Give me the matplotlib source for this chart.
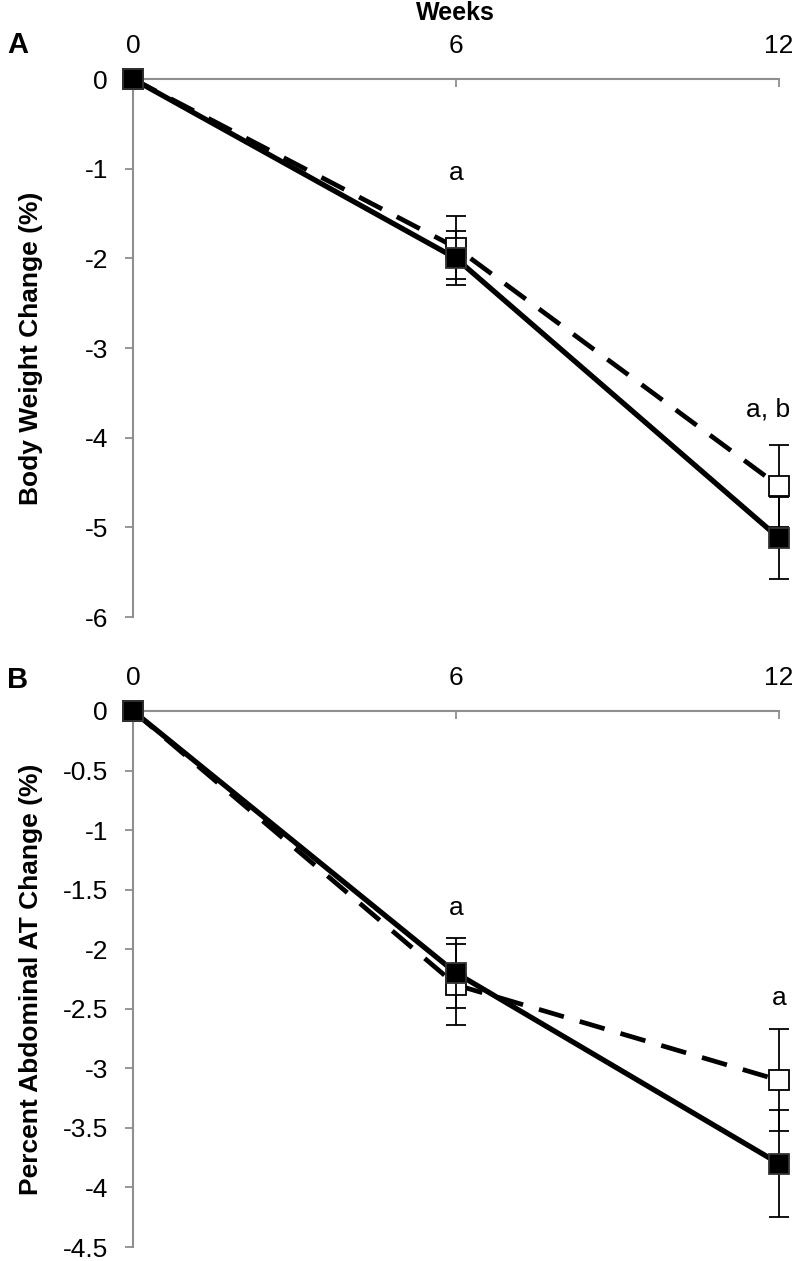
import matplotlib
matplotlib.use("Agg")
from matplotlib import pyplot as plt

plt.rcParams['font.family'] = ['Liberation Sans', 'DejaVu Sans']

weeks = [0, 6, 12]

# panel A - body weight change (%)
bw_filled = [0, -2.0, -5.12]
bw_filled_err = [0, 0.30, 0.46]
bw_open = [0, -1.88, -4.54]
bw_open_err = [0, 0.35, 0.46]
bw_notes = [(6, -1.05, "a"), (11.8, -3.69, "a, b")]

# panel B - percent abdominal AT change (%)
at_filled = [0, -2.2, -3.8]
at_filled_err = [0, 0.29, 0.45]
at_open = [0, -2.3, -3.1]
at_open_err = [0, 0.34, 0.43]
at_notes = [(6, -1.65, "a"), (12, -2.41, "a")]

gray = "#8f8f8f"

fig = plt.figure(figsize=(7.96, 12.61), dpi=100)
axA = fig.add_axes([0.1671, 0.5107, 0.8116, 0.4266])
axB = fig.add_axes([0.1671, 0.0111, 0.8116, 0.4251])


def draw(ax, filled, ferr, opn, oerr, notes, ymin, yticks, ylabel):
    # open squares with dashed line first, filled on top
    ax.errorbar(weeks, opn, yerr=oerr, color="black", lw=3.4, ls=(0, (5.5, 3.5)),
                marker="s", ms=15, mfc="white", mec="black", mew=1.3,
                ecolor="black", elinewidth=1.3, capsize=7, capthick=1.3, zorder=3)
    ax.errorbar(weeks, filled, yerr=ferr, color="black", lw=3.8, ls="-",
                marker="s", ms=15, mfc="black", mec="#333333", mew=1.3,
                ecolor="black", elinewidth=1.3, capsize=7, capthick=1.3, zorder=4)
    for x, y, t in notes:
        ax.text(x, y, t, ha="center", va="center", fontsize=19)

    ax.set_xlim(0, 12)
    ax.set_ylim(ymin, 0)
    ax.set_xticks(weeks)
    ax.set_yticks(yticks)
    ax.set_yticklabels([("%g" % v) for v in yticks])
    ax.xaxis.tick_top()
    ax.tick_params(axis="x", direction="in", length=6, width=1.3, color=gray,
                   pad=15, labelsize=19)
    ax.tick_params(axis="y", direction="out", length=6, width=1.3, color=gray,
                   pad=12, labelsize=19)
    for s in ["bottom", "right"]:
        ax.spines[s].set_visible(False)
    for s in ["top", "left"]:
        ax.spines[s].set_color(gray)
        ax.spines[s].set_linewidth(1.5)
    ax.set_ylabel(ylabel, fontsize=19, fontweight="bold")
    ax.yaxis.set_label_coords(-0.14, 0.5)
    for ln in ax.lines:
        ln.set_clip_on(False)
    for c in ax.collections:
        c.set_clip_on(False)


draw(axA, bw_filled, bw_filled_err, bw_open, bw_open_err, bw_notes,
     -6, [0, -1, -2, -3, -4, -5, -6], "Body Weight Change (%)")
draw(axB, at_filled, at_filled_err, at_open, at_open_err, at_notes,
     -4.5, [0, -0.5, -1, -1.5, -2, -2.5, -3, -3.5, -4, -4.5],
     "Percent Abdominal AT Change (%)")

fig.text(0.5716, 0.990, "Weeks", ha="center", va="center", fontsize=18, fontweight="bold")
fig.text(0.022, 0.964, "A", ha="center", va="center", fontsize=21, fontweight="bold")
fig.text(0.022, 0.461, "B", ha="center", va="center", fontsize=21, fontweight="bold")

fig.savefig("out.png", dpi=100)
